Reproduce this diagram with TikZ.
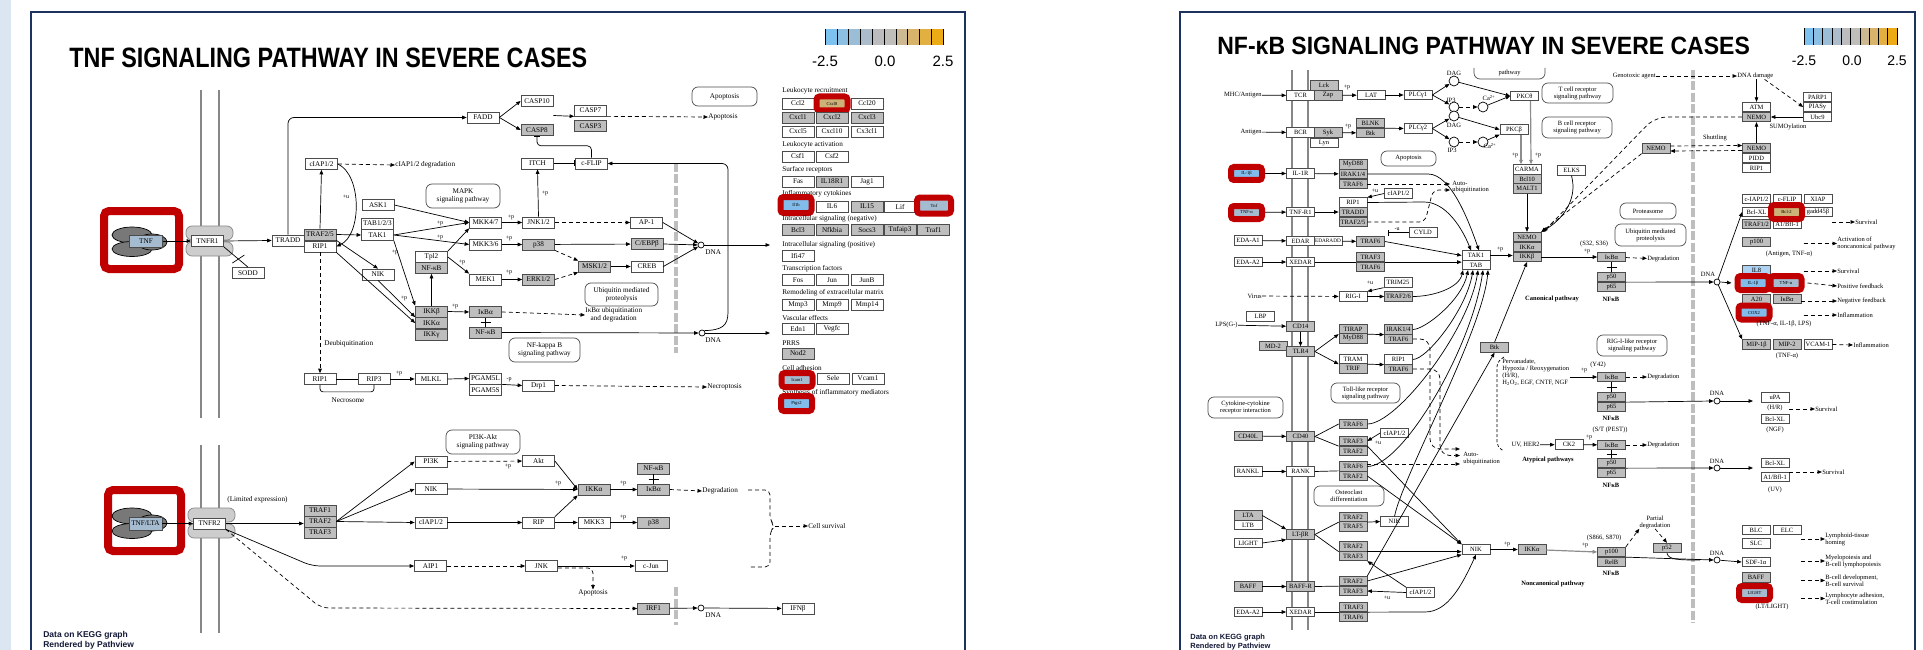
\documentclass[tikz,border=0pt]{standalone}
\usepackage{fontspec}
\setmainfont{Liberation Serif}
\newfontfamily\hdsans{Liberation Sans}
\usetikzlibrary{arrows.meta,positioning,calc,shapes.geometric}
\definecolor{kgray}{RGB}{190,190,190}
\definecolor{kred}{RGB}{192,0,0}
\definecolor{kblue}{RGB}{130,188,235}
\definecolor{kbgray}{RGB}{165,188,208}
\definecolor{ktan}{RGB}{205,178,120}
\definecolor{knavy}{RGB}{30,50,95}
\definecolor{kstrip}{RGB}{220,230,242}
\definecolor{kmem}{RGB}{135,135,135}
\definecolor{kligand}{RGB}{120,120,120}
\definecolor{krec}{RGB}{205,205,205}
\definecolor{kfoot}{RGB}{20,25,55}
\definecolor{cbA}{RGB}{125,193,238}
\definecolor{cbB}{RGB}{140,191,226}
\definecolor{cbC}{RGB}{155,189,214}
\definecolor{cbD}{RGB}{172,188,202}
\definecolor{cbE}{RGB}{188,188,190}
\definecolor{cbF}{RGB}{192,190,186}
\definecolor{cbG}{RGB}{205,185,145}
\definecolor{cbH}{RGB}{215,180,105}
\definecolor{cbI}{RGB}{226,175,65}
\definecolor{cbJ}{RGB}{236,170,20}
\newcommand\kegL{\fontsize{7.2}{7.8}\selectfont}
\newcommand\kegR{\fontsize{6.5}{6.9}\selectfont}
\newcommand\kegS{\fontsize{6}{6}\selectfont}
\newcommand\kegH{\fontsize{4.6}{5}\selectfont}

\begin{document}
\begin{tikzpicture}[x=1pt,y=-1pt,>={Triangle[length=4.5pt,width=3.6pt]},line width=0.7pt,
  lg/.style={draw=black!70,fill=white,inner sep=0pt,minimum width=32pt,minimum height=11pt,font=\kegL},
  lgg/.style={lg,fill=kgray},
  rg/.style={draw=black!70,fill=white,inner sep=0pt,minimum width=28pt,minimum height=9.6pt,font=\kegR},
  rgg/.style={rg,fill=kgray},
  hit/.style={draw=kred,line width=6pt,rounded corners=3pt,inner sep=0pt,minimum width=31pt,minimum height=14pt,font=\kegH},
  mapL/.style={draw=black!70,rounded corners=6pt,align=center,font=\kegL,inner sep=1pt},
  mapR/.style={draw=black!70,rounded corners=6pt,align=center,font=\kegR,inner sep=1pt},
  txL/.style={font=\kegL,inner sep=0pt,align=left},
  txR/.style={font=\kegR,inner sep=0pt,align=left},
  pl/.style={font=\kegS,inner sep=0pt},
  dna/.style={circle,draw,fill=white,minimum size=6pt,inner sep=0pt},
  msg/.style={circle,draw,fill=white,minimum size=10pt,inner sep=0pt},
  da/.style={->,dash pattern=on 4pt off 3pt},
  inh/.style={-{Bar[width=6pt]}},
  mem/.style={draw=kmem,line width=2.2pt},
  nuc/.style={draw=kgray,line width=3.4pt,dash pattern=on 9pt off 2.5pt}]
\useasboundingbox (0,0) rectangle (1923,650);
\fill[white] (0,0) rectangle (1923,650);
\fill[kstrip] (0,0) rectangle (11,650);
\draw[knavy,line width=1.6pt] (31,650) -- (31,12) -- (965,12) -- (965,650);
\draw[knavy,line width=1.6pt] (1180,650) -- (1180,12) -- (1915,12) -- (1915,650);

% titles and colour keys
\node[anchor=base west,inner sep=0pt] (title1) at (69,68) {\hdsans\bfseries\fontsize{28}{30}\selectfont\scalebox{0.835}[1]{TNF SIGNALING PATHWAY IN SEVERE CASES}};
\node[anchor=base west,inner sep=0pt] (title2) at (1217,55) {\hdsans\bfseries\fontsize{25}{27}\selectfont\scalebox{0.92}[1]{NF-κB SIGNALING PATHWAY IN SEVERE CASES}};
\foreach \c [count=\i from 0] in {cbA,cbB,cbC,cbD,cbE,cbF,cbG,cbH,cbI,cbJ}{
  \fill[\c] (825+\i*11.8,29) rectangle ++(11.8,16);
  \fill[\c] (1804+\i*9.3,28) rectangle ++(9.3,17);}
\foreach \i in {0,...,10}{
  \draw[line width=0.5pt] (825+\i*11.8,29) -- ++(0,16);
  \draw[line width=0.5pt] (1804+\i*9.3,28) -- ++(0,17);}
\node[anchor=base,font=\hdsans\fontsize{15}{15}\selectfont] (cbl1) at (825,67) {-2.5};
\node[anchor=base,font=\hdsans\fontsize{15}{15}\selectfont] (cbl2) at (885,67) {0.0};
\node[anchor=base,font=\hdsans\fontsize{15}{15}\selectfont] (cbl3) at (943,67) {2.5};
\node[anchor=base,font=\hdsans\fontsize{14}{14}\selectfont] (cbr1) at (1804,66) {-2.5};
\node[anchor=base,font=\hdsans\fontsize{14}{14}\selectfont] (cbr2) at (1852,66) {0.0};
\node[anchor=base,font=\hdsans\fontsize{14}{14}\selectfont] (cbr3) at (1897,66) {2.5};
\node[anchor=base west,inner sep=0pt,text=kfoot,font=\hdsans\bfseries\fontsize{8.5}{9}\selectfont] (foot1) at (43,637.5) {Data on KEGG graph};
\node[anchor=base west,inner sep=0pt,text=kfoot,font=\hdsans\bfseries\fontsize{8.5}{9}\selectfont] (foot2) at (43,647.5) {Rendered by Pathview};
\node[anchor=base west,inner sep=0pt,text=kfoot,font=\hdsans\bfseries\fontsize{7.5}{8}\selectfont] (foot3) at (1190,639) {Data on KEGG graph};
\node[anchor=base west,inner sep=0pt,text=kfoot,font=\hdsans\bfseries\fontsize{7.5}{8}\selectfont] (foot4) at (1190,648) {Rendered by Pathview};

% membranes and nucleus
\draw[mem] (201,90) -- (201,418); \draw[mem] (219,90) -- (219,418);
\draw[mem] (201,445) -- (201,633); \draw[mem] (219,445) -- (219,633);
\draw[mem] (1292,70) -- (1292,630); \draw[mem] (1308,70) -- (1308,630);
\draw[nuc] (676,163) -- (676,353); \draw[nuc] (676,587) -- (676,625);
\draw[nuc] (1693,70) -- (1693,623);

% ===== TNF pathway, TNFR1 part
\node[draw=kred,line width=8pt,rounded corners=5pt,inner sep=0pt,minimum width=75pt,minimum height=58pt] (tnfhl) at (141.5,240) {};
\draw[fill=kligand] (132,235) ellipse (20pt and 8pt); \draw[fill=kligand] (132,249) ellipse (20pt and 7.5pt);
\draw[fill=kligand] (152,242) ellipse (15pt and 8pt);
\node[draw=black!70,fill=kbgray,inner sep=0pt,minimum width=33pt,minimum height=12pt,font=\kegL] (tnf) at (146,241) {TNF};
\draw[draw=kmem,fill=krec,rounded corners=6pt] (186,226) rectangle (233,240);
\draw[draw=kmem,fill=krec,rounded corners=6pt] (186,242) rectangle (233,256);
\node[lg] (tnfr1) at (207.5,241) {TNFR1};
\node[lg] (sodd) at (248,273) {SODD};
\node[lg] (tradd) at (288,240.5) {TRADD};
\node[lgg] (traf25) at (320,234.5) {TRAF2/5};
\node[lg] (rip1) at (320,246.5) {RIP1};
\node[lg] (ciap) at (321.5,164) {cIAP1/2};
\node[txL,anchor=west] (ciapdeg) at (395,165) {cIAP1/2 degradation};
\node[lg] (fadd) at (483,117.5) {FADD};
\node[lg] (casp10) at (537,101) {CASP10};
\node[lgg] (casp8) at (537,130) {CASP8};
\node[lg] (casp7) at (590.5,110.5) {CASP7};
\node[lgg] (casp3) at (590.5,126) {CASP3};
\node[txL,anchor=west] (apotxt1) at (708,117) {Apoptosis};
\node[mapL,minimum width=65pt,minimum height=19pt] (apomap1) at (724.5,96.5) {Apoptosis};
\node[lg] (itch) at (537.5,163.5) {ITCH};
\node[lg] (cflip) at (591.5,163.5) {c-FLIP};
\node[mapL,minimum width=74pt,minimum height=24pt] (mapkmap) at (463,196) {MAPK\\signaling pathway};
\node[lg] (ask1) at (378,205) {ASK1};
\node[lg] (tab123) at (377.5,223.5) {TAB1/2/3};
\node[lg] (tak1) at (377.5,235) {TAK1};
\node[lg] (mkk47) at (485.5,222.5) {MKK4/7};
\node[lg] (mkk36) at (485.5,244.5) {MKK3/6};
\node[lg] (jnk12) at (538.5,222.5) {JNK1/2};
\node[lgg] (p38a) at (538.5,244.5) {p38};
\node[lg] (ap1) at (646.5,222.5) {AP-1};
\node[lgg] (cebpb) at (647,244) {C/EBPβ};
\node[lgg] (msk12) at (594.5,266.5) {MSK1/2};
\node[lg] (creb) at (647,266.5) {CREB};
\node[lg] (tpl2) at (431.5,257) {Tpl2};
\node[lgg] (nfkbA) at (431.5,268) {NF-κB};
\node[lg] (mek1) at (485.5,279.5) {MEK1};
\node[lgg] (erk12) at (538.5,279.5) {ERK1/2};
\node[lg] (nikA) at (378,274.5) {NIK};
\node[lgg] (ikkbA) at (431.5,311.5) {IKKβ};
\node[lgg] (ikkaA) at (431.5,323) {IKKα};
\node[lgg] (ikkgA) at (431.5,334.5) {IKKγ};
\node[lgg] (ikbaA) at (485.5,312) {IκBα};
\node[lgg] (nfkbB) at (485.5,332.5) {NF-κB};
\node[mapL,minimum width=73pt,minimum height=23pt] (ubqmap) at (621.5,294.5) {Ubiquitin mediated\\proteolysis};
\node[txL,anchor=west,align=center] (ikbadeg) at (585,315) {IκBα ubiquitination\\and degradation};
\node[dna] (dnaA) at (701,245) {}; \node[txL,anchor=west] (dnaAl) at (705,252) {DNA};
\node[dna] (dnaB) at (702,333) {}; \node[txL,anchor=west] (dnaBl) at (705,340) {DNA};
\node[mapL,minimum width=71pt,minimum height=24pt] (nfkbmap) at (544.5,350) {NF-kappa B\\signaling pathway};
\node[txL,anchor=west] (deubq) at (324,344) {Deubiquitination};
\node[lg] (rip1b) at (320,379) {RIP1};
\node[lg] (rip3) at (374,379) {RIP3};
\node[txL] (necrosome) at (348,400) {Necrosome};
\node[lg] (mlkl) at (431,379) {MLKL};
\node[lg] (pgam5l) at (485.5,378.5) {PGAM5L};
\node[lg] (pgam5s) at (485.5,390) {PGAM5S};
\node[lg] (drp1) at (538.5,385.5) {Drp1};
\node[txL,anchor=west] (necrotxt) at (707,387) {Necroptosis};
\coordinate (gin1) at (770,245); \coordinate (gin2) at (770,333);

\draw[->] (tnf.east) -- (tnfr1.west);
\draw[->] (tnfr1.east) -- (tradd.west);
\draw (tnfr1.south east) -- (sodd.north); \draw ($(tnfr1.south east)!0.6!(sodd.north)$) +(-6,4) -- +(6,-4);
\draw[->,rounded corners=6pt] (tradd.north) |- (fadd.west);
\draw[->] (fadd.east) -- (casp10.west); \draw[->] (fadd.east) -- (casp8.west);
\draw[->] ($(casp10.south east)!0.5!(casp8.north east)$) -- (casp7.south west);
\draw[da] (casp7.south east) -- (apotxt1.west);
\draw[->] (traf25.north) -- (ciap.south);
\draw[da] (ciap.east) -- (ciapdeg.west);
\draw[->] (ciap.east) .. controls (362,175) and (362,235) .. (rip1.east);
\draw[->] (traf25.east) -- (tak1.west);
\draw[->] (traf25.south east) -- (nikA.north);
\draw[->] (rip1.south east) -- (ikkaA.west);
\draw[da] (rip1.south) -- (rip1b.north);
\draw[->] (ask1.east) -- (mkk47.west);
\draw[->] (tak1.east) -- (mkk47.west); \draw[->] (tak1.east) -- (mkk36.west);
\draw[->] (tak1.south east) -- (ikkbA.north west);
\draw[->] (nikA.south) -- (ikkaA.north west);
\draw[->] (tpl2.north east) -- (mkk47.south west); \draw[->] (tpl2.east) -- (mek1.north west);
\draw[->] (ikkbA.north) -- (nfkbA.south);
\draw[->] (ikkbA.east) -- (ikbaA.west);
\draw[->] (mkk47) -- (jnk12); \draw[->] (mkk36) -- (p38a); \draw[->] (mek1) -- (erk12);
\draw[da] (jnk12) -- (ap1); \draw[->] (jnk12.north) -- (itch.south);
\draw[->] (p38a) -- (cebpb); \draw[da] (p38a.south east) -- (msk12.north west); \draw[da] (erk12.east) -- (msk12.south west);
\draw[->] (msk12) -- (creb);
\draw[->] (ap1.east) -- (dnaA); \draw[->] (cebpb.east) -- (dnaA); \draw[->] (creb.east) -- (dnaA);
\draw[->] (dnaA.east) -- (gin1);
\draw[inh] (itch.east) -- (cflip.west);
\draw[inh,rounded corners=4pt] (cflip.north) |- ($(casp8.south)+(0,10)$) -- (casp8.south);
\draw (ikbaA.south) -- (nfkbB.north); \draw ($(ikbaA.south)!.5!(nfkbB.north)+(-5,0)$) -- ++(10,0);
\draw[da] (ikbaA.east) -- (ikbadeg.west);
\draw[->] (nfkbB.east) -- (dnaB.west);
\draw[->] (dnaB.east) -- (gin2);
\draw[->] (dnaB.north east) .. controls (722,330) and (728,326) .. (728,312) [rounded corners=6pt] |- (cflip.east);
\draw (rip1b) -- (rip3); \draw[->] (rip3) -- (mlkl); \draw[->] (mlkl.east) -- (pgam5l.west);
\draw[->] (pgam5l.south east) -- (drp1.west); \draw[da] (drp1.east) -- (necrotxt.west);
\draw[rounded corners=3pt] (rip1b.south) |- ($(rip3.south)+(0,7)$) -- (rip3.south);
\node[pl] (lp1) at (346,197) {+u};
\node[pl] (lp2) at (440,223) {+p}; \node[pl] (lp3) at (440,237) {+p};
\node[pl] (lp4) at (511,217) {+p}; \node[pl] (lp5) at (509,238) {+p};
\node[pl] (lp6) at (545,193) {+p}; \node[pl] (lp7) at (395,252) {+p};
\node[pl] (lp8) at (462,262) {+p}; \node[pl] (lp9) at (509,272) {+p};
\node[pl] (lp10) at (404,298) {+p}; \node[pl] (lp11) at (455,306) {+p};
\node[pl] (lp12) at (399,373) {+p}; \node[pl] (lp13) at (509,380) {-p};

% ===== TNF pathway, TNFR2 part
\node[draw=kred,line width=8pt,rounded corners=5pt,inner sep=0pt,minimum width=73pt,minimum height=61pt] (ltahl) at (144.5,520.5) {};
\draw[fill=kligand] (132,516) ellipse (20pt and 8pt); \draw[fill=kligand] (132,531) ellipse (20pt and 7.5pt);
\draw[fill=kligand] (152,523) ellipse (15pt and 8pt);
\node[draw=black!70,fill=kbgray,inner sep=0pt,minimum width=33pt,minimum height=13pt,font=\kegL] (tnflta) at (145.5,523.5) {TNF/LTA};
\draw[draw=kmem,fill=krec,rounded corners=6pt] (188,508) rectangle (235,522);
\draw[draw=kmem,fill=krec,rounded corners=6pt] (188,524) rectangle (235,538);
\node[lg] (tnfr2) at (209.5,523.5) {TNFR2};
\node[txL,anchor=west] (limexp) at (227,500) {(Limited expression)};
\node[lgg] (traf1) at (320,510.5) {TRAF1};
\node[lgg] (traf2) at (320,521.5) {TRAF2};
\node[lgg] (traf3) at (320,532.5) {TRAF3};
\node[mapL,minimum width=74pt,minimum height=24pt] (pi3kmap) at (483,442) {PI3K-Akt\\signaling pathway};
\node[lg] (pi3k) at (431,461.5) {PI3K};
\node[lg] (akt) at (538.5,461) {Akt};
\node[lg] (nikB) at (431,489) {NIK};
\node[lg] (ciapB) at (431,522.5) {cIAP1/2};
\node[lg] (rip) at (538.5,522.5) {RIP};
\node[lg] (mkk3) at (594,522.5) {MKK3};
\node[lgg] (p38b) at (653.5,522.5) {p38};
\node[lgg] (ikkaB) at (594,489.5) {IKKα};
\node[lgg] (ikbaB) at (653.5,489.5) {IκBα};
\node[lgg] (nfkbC) at (653.5,468.5) {NF-κB};
\node[txL,anchor=west] (degA) at (702,491) {Degradation};
\node[txL,anchor=west] (cellsurv) at (808,526) {Cell survival};
\node[lg] (aip1) at (430.5,566) {AIP1};
\node[lg] (jnk) at (541.5,566) {JNK};
\node[lg] (cjun) at (651,566) {c-Jun};
\node[txL] (apotxt2) at (593,593) {Apoptosis};
\node[lgg] (irf1) at (653.5,608.5) {IRF1};
\node[dna] (dnaC) at (701,608) {}; \node[txL,anchor=west] (dnaCl) at (705,615) {DNA};
\node[lg] (ifnb) at (798,608.5) {IFNβ};
\coordinate (bt) at (748,490); \coordinate (bm) at (775,526); \coordinate (bb) at (748,567);

\draw[->] (tnflta.east) -- (tnfr2.west);
\draw[->] (tnfr2.east) -- (tnfr2.east -| traf2.west);
\draw[->] (traf2.east) -- (pi3k.west); \draw[->] (traf2.east) -- (nikB.west); \draw[->] (traf2.east) -- (ciapB.west);
\draw[da] (pi3k) -- (akt);
\draw[->] (akt.east) -- (ikkaB.west); \draw[->] (nikB) -- (ikkaB); \draw[->] (rip.north east) -- (ikkaB.south west);
\draw[->] (ciapB) -- (rip); \draw[->] (rip) -- (mkk3); \draw[->] (mkk3) -- (p38b);
\draw[->] (ikkaB) -- (ikbaB);
\draw (nfkbC.south) -- (ikbaB.north); \draw ($(nfkbC.south)!.5!(ikbaB.north)+(-5,0)$) -- ++(10,0);
\draw[da] (ikbaB.east) -- (degA.west);
\draw[dash pattern=on 4pt off 3pt,rounded corners=5pt] (bt) -- (770,490) -- (770,520) -- (bm) -- (770,532) -- (770,567) -- (bb);
\draw[da] (bm) -- (cellsurv.west);
\draw[->,rounded corners=8pt] (tnfr2.south east) -- (312,566) -- (aip1.west);
\draw[da] (aip1) -- (jnk); \draw[->] (jnk) -- (cjun);
\draw[da,rounded corners=5pt] ([yshift=-2pt]jnk.east) -| (apotxt2.north);
\draw[da,rounded corners=8pt] (tnfr2.south east) -- (321,608) -- (irf1.west);
\draw[->] (irf1) -- (dnaC); \draw[->] (dnaC) -- (ifnb);
\node[pl] (lp14) at (508,466) {+p}; \node[pl] (lp15) at (558,483) {+p};
\node[pl] (lp16) at (623,483) {+p}; \node[pl] (lp17) at (623,517) {+p};
\node[pl] (lp18) at (624,558) {+p};

% ===== gene list
\node[txL,anchor=west] (lrec) at (782,91) {Leukocyte recruitment};
\node[lg] (ccl2) at (798,103.5) {Ccl2};
\node[hit,fill=ktan] (cxcl8) at (832,103.5) {Cxcl8};
\node[lg] (ccl20) at (867,103.5) {Ccl20};
\node[lgg] (cxcl1) at (798,117.5) {Cxcl1};
\node[lgg] (cxcl2) at (832,117.5) {Cxcl2};
\node[lgg] (cxcl3) at (867,117.5) {Cxcl3};
\node[lg] (cxcl5) at (798,131.5) {Cxcl5};
\node[lg] (cxcl10) at (832,131.5) {Cxcl10};
\node[lg] (cx3cl1) at (867,131.5) {Cx3cl1};
\node[txL,anchor=west] (lact) at (782,145) {Leukocyte activation};
\node[lg] (csf1) at (798,156.5) {Csf1};
\node[lg] (csf2) at (832,156.5) {Csf2};
\node[txL,anchor=west] (srec) at (782,170) {Surface receptors};
\node[lg] (fas) at (798,181.5) {Fas};
\node[lgg] (il18r1) at (832,181.5) {IL18R1};
\node[lg] (jag1) at (867,181.5) {Jag1};
\node[txL,anchor=west] (icyt) at (782,194) {Inflammatory cytokines};
\node[lg] (il6) at (832,206.5) {IL6};
\node[lgg] (il15) at (867,206.5) {IL15};
\node[lg] (lif) at (900,206.5) {Lif};
\node[hit,fill=kblue,minimum height=16pt] (il1bA) at (796,205) {Il1b};
\node[hit,fill=kbgray,minimum width=34pt,minimum height=16pt] (tnfA) at (934,205.5) {Tnf};
\node[txL,anchor=west] (isneg) at (782,219) {Intracellular signaling (negative)};
\node[lgg] (bcl3) at (798,230) {Bcl3};
\node[lgg] (nfkbia) at (832,230) {Nfkbia};
\node[lgg] (socs3) at (867,230) {Socs3};
\node[lgg] (tnfaip3) at (900,230) {Tnfaip3};
\node[lgg] (traf1g) at (933.5,230) {Traf1};
\node[txL,anchor=west] (ispos) at (782,245) {Intracellular signaling (positive)};
\node[lg] (ifi47) at (798,255.5) {Ifi47};
\node[txL,anchor=west] (tfac) at (782,269) {Transcription factors};
\node[lg] (fos) at (798,280) {Fos};
\node[lg] (jun) at (832,280) {Jun};
\node[lg] (junb) at (867,280) {JunB};
\node[txL,anchor=west] (remo) at (782,293) {Remodeling of extracellular matrix};
\node[lg] (mmp3) at (798,305) {Mmp3};
\node[lg] (mmp9) at (832,305) {Mmp9};
\node[lg] (mmp14) at (867,305) {Mmp14};
\node[txL,anchor=west] (vasc) at (782,318) {Vascular effects};
\node[lg] (edn1) at (798,329) {Edn1};
\node[lg] (vegfc) at (832,329) {Vegfc};
\node[txL,anchor=west] (prrs) at (782,343) {PRRS};
\node[lgg] (nod2) at (798,353.5) {Nod2};
\node[txL,anchor=west] (cadh) at (782,368) {Cell adhesion};
\node[lg] (sele) at (833,378.5) {Sele};
\node[lg] (vcam1) at (868,378.5) {Vcam1};
\node[txL,anchor=west] (synth) at (782,393) {Synthesis of inflammatory mediators};
\node[hit,fill=kbgray] (icam1) at (797,380) {Icam1};
\node[hit,fill=kblue,minimum height=15pt] (ptgs2) at (796.5,403.5) {Ptgs2};

% ===== NF-kB pathway, receptors
\draw[draw=black!70,rounded corners=6pt] (1474,68) -- (1474,79) -- (1545,79) -- (1545,68);
\node[txR] (pwtop) at (1509.5,72.5) {pathway};
\node[txR,anchor=east] (mhc) at (1262,95) {MHC/Antigen};
\node[rgg] (lck) at (1324,85.5) {Lck};
\node[rg] (tcr) at (1300.5,95.5) {TCR};
\node[rgg] (zap) at (1328,95.5) {Zap};
\node[rg] (lat) at (1371,95) {LAT};
\node[rg] (plcg1) at (1418,95) {PLCγ1};
\node[msg] (dag1) at (1454,81) {}; \node[txR] (dag1l) at (1454,73) {DAG};
\node[msg] (ip31) at (1454,107) {}; \node[txR] (ip31l) at (1451,100) {IP3};
\node[msg] (ca1) at (1483,107) {}; \node[txR] (ca1l) at (1489,98) {Ca\textsuperscript{2+}};
\node[rg] (pkct) at (1524.5,96) {PKCθ};
\node[mapR,minimum width=71pt,minimum height=20pt] (tcrmap) at (1577.5,93) {T cell receptor\\signaling pathway};
\node[txR,anchor=east] (antigen) at (1262,132) {Antigen};
\node[rg] (lyn) at (1324,143) {Lyn};
\node[rg] (bcr) at (1300.5,132.5) {BCR};
\node[rgg] (syk) at (1328,132.5) {Syk};
\node[rgg] (blnk) at (1370.5,123) {BLNK};
\node[rgg] (btkA) at (1370.5,133) {Btk};
\node[rg] (plcg2) at (1418,128.5) {PLCγ2};
\node[msg] (dag2) at (1454,116) {}; \node[txR] (dag2l) at (1454,125.5) {DAG};
\node[msg] (ip32) at (1454,142) {}; \node[txR] (ip32l) at (1452,150) {IP3};
\node[msg] (ca2) at (1483,142) {}; \node[txR] (ca2l) at (1490,146) {Ca\textsuperscript{2+}};
\node[rg] (pkcb) at (1514,129.5) {PKCβ};
\node[mapR,minimum width=70pt,minimum height=21pt] (bcrmap) at (1577,127.5) {B cell receptor\\signaling pathway};
\node[mapR,minimum width=55pt,minimum height=15pt] (apomap2) at (1408.5,158.5) {Apoptosis};
\node[rg] (carma) at (1527,169.5) {CARMA};
\node[rgg] (bcl10) at (1527,179) {Bcl10};
\node[rgg] (malt1) at (1527,188.5) {MALT1};
\node[rg] (elks) at (1571.5,170.5) {ELKS};
\node[hit,fill=kblue,minimum height=13pt] (il1bB) at (1246.5,173.5) {IL-1β};
\node[rg] (il1r) at (1300.5,173.5) {IL-1R};
\node[rgg] (myd88A) at (1353,164.5) {MyD88};
\node[rgg] (irak14A) at (1353,174) {IRAK1/4};
\node[rgg] (traf6A) at (1353,184) {TRAF6};
\node[txR,anchor=west] (autoA) at (1452,187) {Auto-\\ubiquitination};
\node[rg] (ciapC) at (1398.5,193.5) {cIAP1/2};
\node[hit,fill=kbgray,minimum height=13pt] (tnfaB) at (1246.5,212.5) {TNF-α};
\node[rg] (tnfr1B) at (1300.5,212) {TNF-R1};
\node[rg] (rip1C) at (1353,202.5) {RIP1};
\node[rgg] (traddB) at (1353,212) {TRADD};
\node[rgg] (traf25B) at (1353,222) {TRAF2/5};
\node[rg] (edaa1) at (1248,240.5) {EDA-A1};
\node[rg] (edar) at (1300.5,241) {EDAR};
\node[rg,font=\fontsize{5.3}{6}\selectfont] (edaradd) at (1328,241) {EDARADD};
\node[rgg] (traf6B) at (1370.5,241.5) {TRAF6};
\node[rg] (cyld) at (1423,232.5) {CYLD};
\node[rg] (edaa2) at (1248,262) {EDA-A2};
\node[rg] (xedar) at (1300.5,262) {XEDAR};
\node[rgg] (traf3A) at (1370.5,257) {TRAF3};
\node[rgg] (traf6C) at (1370.5,267) {TRAF6};
\node[rg] (tak1B) at (1476,255.5) {TAK1};
\node[rg] (tabB) at (1476,265) {TAB};
\node[rgg] (nemoA) at (1527,237) {NEMO};
\node[rgg] (ikkaC) at (1527,247) {IKKα};
\node[rgg] (ikkbB) at (1527,257) {IKKβ};
\node[txR,anchor=east] (virus) at (1262,296) {Virus};
\node[rg] (rig1) at (1353,296.5) {RIG-I};
\node[rg] (trim25) at (1398,282.5) {TRIM25};
\node[rgg] (traf26) at (1398.5,296.5) {TRAF2/6};
\node[txR,font=\kegR\bfseries] (canon) at (1552,299) {Canonical pathway};
\node[rg] (lbp) at (1260.5,316.5) {LBP};
\node[txR,anchor=east] (lps) at (1238,325) {LPS(G-)};
\node[rgg] (cd14) at (1300.5,326.5) {CD14};
\node[rgg] (md2) at (1273,346) {MD-2};
\node[rgg] (tlr4) at (1300.5,351.5) {TLR4};
\node[rgg] (tirap) at (1353,329) {TIRAP};
\node[rgg] (myd88B) at (1353,338.5) {MyD88};
\node[rgg] (irak14B) at (1398.5,329.5) {IRAK1/4};
\node[rgg] (traf6D) at (1398.5,339) {TRAF6};
\node[rg] (tram) at (1353,359) {TRAM};
\node[rgg] (trif) at (1353,368.5) {TRIF};
\node[rg] (rip1D) at (1398.5,359.5) {RIP1};
\node[rgg] (traf6E) at (1398.5,369) {TRAF6};
\node[mapR,minimum width=69pt,minimum height=20pt] (tlrmap) at (1365.5,393) {Toll-like receptor\\signaling pathway};
\node[mapR,minimum width=75pt,minimum height=21pt] (ckrmap) at (1245.5,407.5) {Cytokine-cytokine\\receptor interaction};
\node[rgg] (cd40l) at (1248,436) {CD40L};
\node[rgg] (cd40) at (1300.5,436.5) {CD40};
\node[rgg] (traf6F) at (1353,424) {TRAF6};
\node[rg] (ciapD) at (1394.5,433) {cIAP1/2};
\node[rgg] (traf3B) at (1353,441) {TRAF3};
\node[rgg] (traf2B) at (1353,451) {TRAF2};
\node[rg] (rankl) at (1248,471.5) {RANKL};
\node[rg] (rank) at (1300.5,471.5) {RANK};
\node[rgg] (traf6G) at (1353,466.5) {TRAF6};
\node[rgg] (traf2C) at (1353,476) {TRAF2};
\node[txR,anchor=west] (autoB) at (1463,458.5) {Auto-\\ubiquitination};
\node[mapR,minimum width=70pt,minimum height=20pt] (ostmap) at (1349,496) {Osteoclast\\differentiation};
\node[rgg] (lta) at (1248,515.5) {LTA};
\node[rg] (ltb) at (1248,525) {LTB};
\node[rg] (light) at (1248,543) {LIGHT};
\node[rgg] (ltbr) at (1300.5,534.5) {LT-βR};
\node[rgg] (traf2D) at (1353,517) {TRAF2};
\node[rgg] (traf5) at (1353,526.5) {TRAF5};
\node[rg] (nikC) at (1394.5,521.5) {NIK};
\node[rgg] (traf2E) at (1353,546.5) {TRAF2};
\node[rgg] (traf3C) at (1353,556) {TRAF3};
\node[rgg] (baff) at (1248,586.5) {BAFF};
\node[rgg] (baffr) at (1300.5,586.5) {BAFF-R};
\node[rgg] (traf2F) at (1353,581) {TRAF2};
\node[rgg] (traf3D) at (1353,591) {TRAF3};
\node[rg] (ciapE) at (1420.5,592.5) {cIAP1/2};
\node[rg] (edaa2B) at (1248,612) {EDA-A2};
\node[rg] (xedarB) at (1300.5,612) {XEDAR};
\node[rgg] (traf3E) at (1353.5,607) {TRAF3};
\node[rgg] (traf6H) at (1353.5,617) {TRAF6};
\node[rg] (nikD) at (1476,549.5) {NIK};
\node[rgg] (ikkaD) at (1532,549.5) {IKKα};
\node[txR,font=\kegR\bfseries] (noncanon) at (1553,584) {Noncanonical pathway};
\node[rgg] (btkB) at (1494.5,347.5) {Btk};
\node[txR,anchor=north west] (perv) at (1502,359) {Pervanadate,\\Hypoxia / Reoxygenation\\(H/R),\\H\textsubscript{2}O\textsubscript{2}, EGF, CNTF, NGF};
\node[txR,anchor=east] (uvher) at (1540,445) {UV, HER2};
\node[rg] (ck2) at (1569,444.5) {CK2};
\node[txR,font=\kegR\bfseries] (atyp) at (1548,460) {Atypical pathways};
\coordinate (auA1) at (1450,184); \coordinate (auA2) at (1450,190);
\coordinate (auB1) at (1460,449); \coordinate (auB2) at (1460,455.5); \coordinate (auB3) at (1460,464);

\draw[->] (mhc) -- (tcr); \draw[->] (zap) -- (lat); \draw[->] (lat) -- (plcg1);
\draw[->] (plcg1.east) -- (dag1); \draw[->] (plcg1.east) -- (ip31);
\draw[->] (dag1) -- (pkct.west); \draw[da] (ip31) -- (ca1); \draw[->] (ca1) -- (pkct.west);
\draw[->] (antigen) -- (bcr); \draw[->] (syk) -- (btkA);
\draw[->] (blnk.south east) -- (plcg2.west);
\draw[->] (plcg2.east) -- (dag2); \draw[->] (plcg2.east) -- (ip32);
\draw[->] (dag2) -- (pkcb.west); \draw[da] (ip32) -- (ca2); \draw[->] (ca2) -- (pkcb.south west);
\draw[->,draw=black!45,line width=1.2pt] ([xshift=6pt]pkct.south) -- ([xshift=4pt]carma.north);
\draw[->,draw=black!45,line width=1.2pt] ([xshift=7pt]pkcb.south) -- ([xshift=-6pt]carma.north);
\draw[->] (malt1) -- (nemoA);
\draw[->] (elks.south) .. controls (1578,200) and (1562,220) .. (nemoA.north east);
\draw[->] (il1bB) -- (il1r); \draw[->] (il1r) -- (irak14A);
\draw[->] (irak14A.east) -- (1428,174) .. controls (1452,174) and (1470,225) .. ([xshift=3pt]tak1B.north);
\draw[da] (traf6A.east) -- (auA1);
\draw[da,rounded corners=6pt] (traf25B.east) -- (1425,222) -- (1433,190) -- (auA2);
\draw[->] (ciapC.west) -- (rip1C.north east);
\draw[->] (tnfaB) -- (tnfr1B); \draw[->] (tnfr1B) -- (traddB);
\draw[->] (rip1C.east) -- (1424,202) .. controls (1446,202) and (1462,228) .. ([xshift=-5pt]tak1B.north);
\draw[->] (edaa1) -- (edar); \draw[->] (edaradd) -- (traf6B);
\draw[->] (traf6B.east) -- (tak1B.west);
\draw[inh] (cyld.west) -- ([xshift=3pt]cyld.west -| traf6B.east);
\draw[->] (edaa2) -- (xedar); \draw (xedar.east) -- (xedar.east -| traf3A.west);
\draw[->] (traf3A.south east) -- (traf3A.south east -| tabB.west);
\draw[->] (tak1B.east) -- (tak1B.east -| ikkbB.west);
\draw[da] (virus) -- (rig1); \draw[->] (trim25.south west) -- (rig1.north east); \draw[->] (rig1) -- (traf26);
\draw[->] (traf26.east) .. controls +(20,0) and +(-4,18) .. ([xshift=-13pt]tabB.south);
\draw[->] (lps) -- (cd14); \draw[->] (cd14) -- (tlr4);
\draw[->] (tlr4.east) -- (tirap.south west); \draw[->] (tlr4.east) -- (tram.south west);
\draw[->] (tirap.south east) -- (irak14B.south west); \draw[->] (tram.south east) -- (rip1D.south west);
\draw[->] (irak14B.east) .. controls +(12,0) and +(-6,30) .. ([xshift=-8pt]tabB.south);
\draw[->] (rip1D.east) .. controls +(14,0) and +(-7,40) .. ([xshift=-3pt]tabB.south);
\draw[da,rounded corners=10pt] (traf6D.east) -| (1430,449) -- (auB1);
\draw[da,rounded corners=10pt] (traf6E.east) -| (1440,455.5) -- (auB2);
\draw[->] (cd40l) -- (cd40);
\draw (cd40.east) -- (traf6F.west); \draw (cd40.east) -- (traf3B.south west);
\draw[->] (traf6F.east) .. controls +(30,0) and +(-9,60) .. ([xshift=2pt]tabB.south);
\draw[->] (ciapD.west) -- (traf3B.east);
\draw[->] (traf3B.south east) -- (nikD.north west);
\draw[->] (rankl) -- (rank); \draw (rank.east) -- (traf2C.north west);
\draw[->] (traf6G.east) .. controls +(35,0) and +(-12,80) .. ([xshift=7pt]tabB.south);
\draw[da] (traf6G.east |- auB3) -- (auB3);
\draw[->] (traf2C.east) -- (nikD.north west);
\draw[->] (lta.east) -- (ltbr.north west); \draw[->] (light.east) -- (ltbr.south west);
\draw (ltbr.east) -- (traf2D.south west); \draw (ltbr.east) -- (traf2E.south west);
\draw[->] (traf2D.south east) -- (nikC.west);
\draw[->] (nikC.north) .. controls +(8,-40) and +(-5,60) .. ([xshift=12pt]tabB.south);
\draw[->] (traf2E.south east) -- (traf2E.south east -| nikD.west);
\draw[->] (ciapE.north west) -- (traf3C.south east);
\draw[->] (baff) -- (baffr); \draw (baffr.east) -- (traf2F.south west);
\draw[->] (traf2F.east) -- (nikD.south west);
\draw[->] (traf2F.north east) -- (btkB.south);
\draw[->] (ciapE.west) -- (traf3D.east);
\draw[->] (edaa2B) -- (xedarB); \draw (xedarB.east) -- (xedarB.east -| traf3E.west);
\draw[->] (traf3E.south east) -- (1425,612) .. controls (1448,612) and (1462,585) .. (nikD.south);
\draw[->] (nikD) -- (ikkaD);
\draw[->] (btkB.north) -- (ikkbB.south);
\draw[dash pattern=on 3pt off 2pt,rounded corners=5pt] (1504,357) -- (1497,362) -- (1497,447) -- (1504,451);
\draw[->] (uvher) -- (ck2);
\node[pl] (rp1) at (1347,87) {+p}; \node[pl] (rp2) at (1348,126) {+p};
\node[pl] (rp3) at (1515,155) {+p}; \node[pl] (rp4) at (1538,155) {+p};
\node[pl] (rp5) at (1375,191) {+u}; \node[pl] (rp6) at (1397,229) {-u};
\node[pl] (rp7) at (1500,249) {+p}; \node[pl] (rp8) at (1370,283) {+u};
\node[pl] (rp9) at (1378,443) {+u}; \node[pl] (rp10) at (1372,564) {+u};
\node[pl] (rp11) at (1387,598) {+u}; \node[pl] (rp12) at (1507,544) {+p};

% ===== NF-kB pathway, nucleus side
\node[txR,anchor=east] (genotox) at (1656,76) {Genotoxic agent};
\node[txR,anchor=west] (dnadam) at (1737,76) {DNA damage};
\node[rg] (atm) at (1756.5,107) {ATM};
\node[rgg] (nemoB) at (1756.5,117) {NEMO};
\node[rg] (parp1) at (1817.5,97) {PARP1};
\node[rg] (piasy) at (1817.5,107) {PIASy};
\node[rg] (ubc9) at (1817.5,117) {Ubc9};
\node[txR] (sumo) at (1788,127) {SUMOylation};
\node[txR] (shutl) at (1715,138) {Shuttling};
\node[rgg] (nemoC) at (1656,148.5) {NEMO};
\node[rgg] (nemoD) at (1756.5,148) {NEMO};
\node[rg] (pidd) at (1756.5,158) {PIDD};
\node[rg] (rip1E) at (1756.5,168) {RIP1};
\node[mapR,minimum width=56pt,minimum height=16pt] (protmap) at (1648,211) {Proteasome};
\node[mapR,minimum width=71pt,minimum height=22pt] (ubqmap2) at (1650.5,235) {Ubiquitin mediated\\proteolysis};
\node[txR] (s3236) at (1594,244) {(S32, S36)};
\node[rgg] (ikbaC) at (1611.5,257) {IκBα};
\node[txR,anchor=west] (degB) at (1647,259) {Degradation};
\node[rgg] (p50A) at (1611.5,277) {p50};
\node[rgg] (p65A) at (1611.5,287) {p65};
\node[txR,font=\kegR\bfseries] (nfkbl1) at (1611,299) {NFκB};
\node[dna] (dnaD) at (1717,282) {}; \node[txR] (dnaDl) at (1708,274) {DNA};
\node[rg] (ciapF) at (1756.5,199) {c-IAP1/2};
\node[rg] (cflipB) at (1787,199) {c-FLIP};
\node[rg] (xiap) at (1818,199) {XIAP};
\node[rg] (bclxlA) at (1756.5,212) {Bcl-XL};
\node[rg] (gadd) at (1818,212) {gadd45β};
\node[rgg] (traf12) at (1756.5,224) {TRAF1/2};
\node[rg] (a1A) at (1787,224) {A1/Bfl-1};
\node[hit,fill=ktan] (bcl2) at (1786.5,212) {Bcl-2};
\node[txR,anchor=west] (survA) at (1855,222) {Survival};
\node[rgg] (p100A) at (1756.5,242) {p100};
\node[txR] (antnf) at (1789,254) {(Antigen, TNF-α)};
\node[txR,anchor=west] (actnc) at (1837,243.5) {Activation of\\noncanonical pathway};
\node[rg,fill=kblue!65] (il8) at (1756.5,270.5) {IL8};
\node[rgg] (a20) at (1756.5,299) {A20};
\node[rgg] (ikbaD) at (1787,299) {IκBα};
\node[hit,fill=kblue] (il1bC) at (1753,283) {IL-1β};
\node[hit,fill=kbgray] (tnfaC) at (1786,283) {TNF-α};
\node[hit,fill=kblue] (cox2) at (1754,312.5) {COX2};
\node[txR] (tnfil) at (1784,324) {(TNF-α, IL-1β, LPS)};
\node[txR,anchor=west] (survB) at (1837,271) {Survival};
\node[txR,anchor=west] (posfb) at (1837,286) {Positive feedback};
\node[txR,anchor=west] (negfb) at (1837,301) {Negative feedback};
\node[txR,anchor=west] (inflA) at (1837,315) {Inflammation};
\node[rgg] (mip1b) at (1756.5,344.5) {MIP-1β};
\node[rgg] (mip2) at (1787,344.5) {MIP-2};
\node[rg] (vcam) at (1818,344.5) {VCAM-1};
\node[txR,anchor=west] (inflB) at (1853,345) {Inflammation};
\node[txR] (tnfa2l) at (1787,356) {(TNF-α)};
\node[mapR,minimum width=70pt,minimum height=21pt] (rigmap) at (1632,345.5) {RIG-I-like receptor\\signaling pathway};
\node[txR] (y42) at (1598,365) {(Y42)};
\node[rgg] (ikbaE) at (1611.5,377) {IκBα};
\node[txR,anchor=west] (degC) at (1647,377) {Degradation};
\node[rgg] (p50B) at (1611.5,397) {p50};
\node[rgg] (p65B) at (1611.5,407) {p65};
\node[txR,font=\kegR\bfseries] (nfkbl2) at (1611,418) {NFκB};
\node[dna] (dnaE) at (1717,401) {}; \node[txR] (dnaEl) at (1717,393) {DNA};
\node[rg] (upa) at (1775,397.5) {uPA};
\node[txR] (hr) at (1775,408) {(H/R)};
\node[rg] (bclxlB) at (1775,419) {Bcl-XL};
\node[txR] (ngf) at (1775,429.5) {(NGF)};
\node[txR,anchor=west] (survC) at (1815,409) {Survival};
\node[txR] (stpest) at (1610,430) {(S/T (PEST))};
\node[rgg] (ikbaF) at (1611.5,445) {IκBα};
\node[txR,anchor=west] (degD) at (1647,445) {Degradation};
\node[rgg] (p50C) at (1611.5,463) {p50};
\node[rgg] (p65C) at (1611.5,473) {p65};
\node[txR,font=\kegR\bfseries] (nfkbl3) at (1611,485) {NFκB};
\node[dna] (dnaF) at (1717,468) {}; \node[txR] (dnaFl) at (1717,461) {DNA};
\node[rg] (bclxlC) at (1775,463) {Bcl-XL};
\node[rg] (a1B) at (1775,477) {A1/Bfl-1};
\node[txR] (uv) at (1775,489.5) {(UV)};
\node[txR,anchor=west] (survD) at (1822,472) {Survival};
\node[txR,align=center] (partdeg) at (1655,522) {Partial\\degradation};
\node[rgg] (p52) at (1667,548) {p52};
\node[txR] (s866) at (1604,538) {(S866, S870)};
\node[rgg] (p100B) at (1611.5,552) {p100};
\node[rgg] (relb) at (1611.5,562) {RelB};
\node[txR,font=\kegR\bfseries] (nfkbl4) at (1611,573) {NFκB};
\node[dna] (dnaG) at (1717,560) {}; \node[txR] (dnaGl) at (1717,553) {DNA};
\node[rg] (blc) at (1756,530) {BLC};
\node[rg] (elc) at (1787,530) {ELC};
\node[rg] (slc) at (1756,543.5) {SLC};
\node[rg] (sdf) at (1756,562) {SDF-1α};
\node[rgg] (baffB) at (1756,577.5) {BAFF};
\node[hit,fill=kbgray] (lightB) at (1754.5,593) {LIGHT};
\node[txR] (ltlight) at (1772,607) {(LT/LIGHT)};
\node[txR,anchor=west] (lymA) at (1825,539) {Lymphoid-tissue\\homing};
\node[txR,anchor=west] (lymB) at (1825,561) {Myelopoiesis and\\B-cell lymphopoiesis};
\node[txR,anchor=west] (lymC) at (1825,580.5) {B-cell development,\\B-cell survival};
\node[txR,anchor=west] (lymD) at (1825,598.5) {Lymphocyte adhesion,\\T-cell costimulation};
\coordinate (gin3) at (1753,401); \coordinate (gin4) at (1753,468);

\draw[da] (genotox) -- (dnadam);
\draw[->] (dnadam.south -| atm.north) -- (atm.north);
\draw[da] ([xshift=8pt]dnadam.south -| atm.north) -- (piasy.west);
\draw[->] (ubc9) -- (nemoB); \draw[->] (nemoD) -- (nemoB);
\draw[da] ([yshift=2.5pt]nemoC.east) -- ([yshift=2.5pt]nemoD.west);
\draw[da] ([yshift=-2.5pt]nemoD.west) -- ([yshift=-2.5pt]nemoC.east);
\draw[da] (nemoC.south west) -- (nemoA.north east);
\draw[da,rounded corners=12pt] (nemoB.west) -- (1655,117) -- ([xshift=2pt]nemoA.north east);
\draw[->] (ikkbB.east) -- (ikbaC.west);
\draw[da] (ikbaC) -- (degB);
\draw (ikbaC.south) -- (p50A.north); \draw ($(ikbaC.south)!.5!(p50A.north)+(-5,0)$) -- ++(10,0);
\draw[->] (p50A.south east) -- (dnaD.west);
\draw[->] (dnaD) -- (bclxlA.west); \draw[->] (dnaD.east) -- ([xshift=-3pt]il1bC.west); \draw[->] (dnaD) -- (mip1b.north west);
\draw[da] (xiap.east |- survA.west) -- (survA.west);
\draw[da] (xiap.west |- actnc.west) -- (actnc.west);
\draw[da] (xiap.west |- survB.west) -- (survB.west);
\draw[da] ([xshift=3pt]tnfaC.east) -- (posfb.west);
\draw[da] (ikbaD.east |- negfb.west) -- (negfb.west);
\draw[da] (xiap.west |- inflA.west) -- (inflA.west);
\draw[da] (vcam.east) -- (inflB.west);
\draw[->] (perv.east |- ikbaE) -- (ikbaE.west);
\draw[da] (ikbaE) -- (degC);
\draw (ikbaE.south) -- (p50B.north); \draw ($(ikbaE.south)!.5!(p50B.north)+(-5,0)$) -- ++(10,0);
\draw[->] (p50B.south east) -- (dnaE.west); \draw[->] (dnaE.east) -- (gin3);
\draw[da] (bclxlB.east |- survC.west) -- (survC.west);
\draw[->] (ck2) -- (ikbaF);
\draw[da] (ikbaF) -- (degD);
\draw (ikbaF.south) -- (p50C.north); \draw ($(ikbaF.south)!.5!(p50C.north)+(-5,0)$) -- ++(10,0);
\draw[->] (p50C.south east) -- (dnaF.west); \draw[->] (dnaF.east) -- (gin4);
\draw[da] (bclxlC.east |- survD.west) -- (survD.west);
\draw[->,draw=black!45,line width=1.2pt] (ikkaD) -- (p100B.west);
\draw[da] (p100B.north east) -- (partdeg.south west); \draw[da] (partdeg.south) -- (p52.north);
\draw[->] (p100B.south east) -- (dnaG.west);
\draw (p52.south) .. controls (1668,560) and (1680,560) .. (1700,560);
\draw[->] (dnaG) -- (sdf.west);
\draw[da] (elc.east |- lymA.west) -- (lymA.west);
\draw[da] (elc.east |- lymB.west) -- (lymB.west);
\draw[da] (elc.east |- lymC.west) -- (lymC.west);
\draw[da] (elc.east |- lymD.west) -- (lymD.west);
\node[pl] (rp13) at (1587,251) {+p}; \node[pl] (rp14) at (1584,370) {+p};
\node[pl] (rp15) at (1589,437) {+p}; \node[pl] (rp16) at (1585,545) {+p};
\end{tikzpicture}
\end{document}
